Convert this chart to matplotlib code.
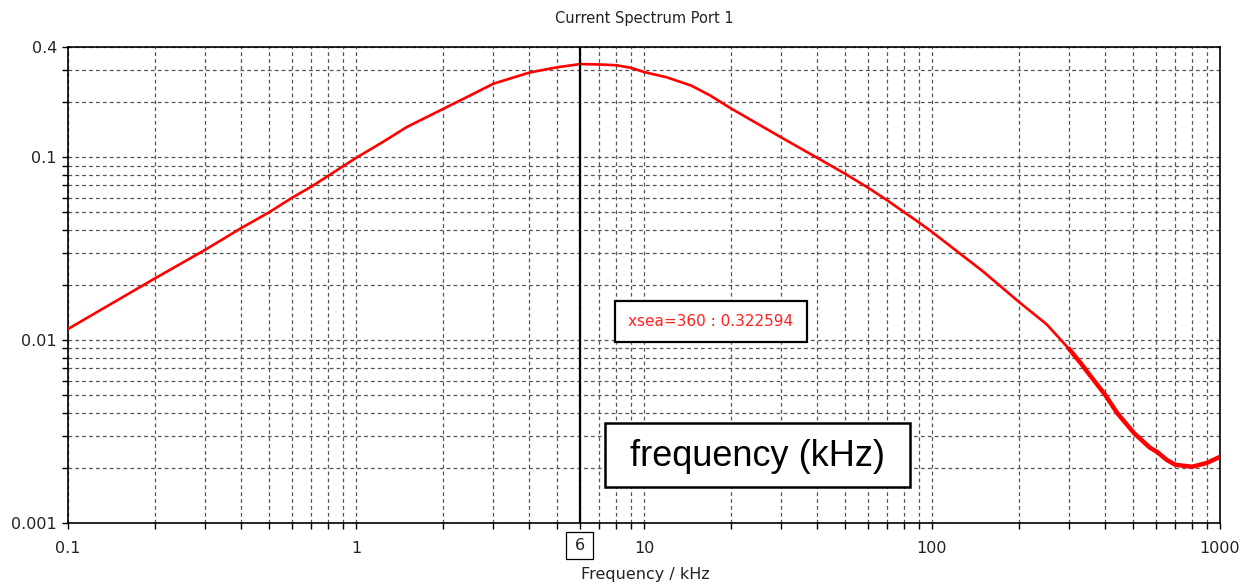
import matplotlib
matplotlib.use("Agg")
import matplotlib.pyplot as plt
from matplotlib.patches import Rectangle
from matplotlib.ticker import LogLocator, FixedLocator, NullFormatter, FixedFormatter

# ---- data ----
freq_khz = [0.1, 0.2, 0.3, 0.4, 0.5, 0.6, 0.7, 0.8, 0.9, 1, 1.25, 1.5, 2, 2.5, 3, 4, 5, 6, 7,
            8, 9, 10, 12, 14.6, 17, 20, 30, 40, 50, 60, 70, 80, 90, 100, 150, 200, 250, 300,
            330, 354, 400, 439, 503, 571, 604, 654, 700, 800, 900, 1000]
current = [0.0115, 0.0217, 0.0312, 0.041, 0.050, 0.060, 0.069, 0.079, 0.089, 0.099, 0.122,
           0.146, 0.183, 0.218, 0.252, 0.290, 0.31, 0.3226, 0.321, 0.318, 0.308, 0.292,
           0.273, 0.246, 0.217, 0.185, 0.128, 0.099, 0.081, 0.068, 0.058, 0.050, 0.044,
           0.039, 0.0238, 0.0162, 0.0122, 0.0089, 0.0074, 0.0064, 0.0050, 0.0040, 0.0031,
           0.00258, 0.00245, 0.00221, 0.00208, 0.00203, 0.00213, 0.0023]
x_ticks = [0.1, 1, 10, 100, 1000]
x_tick_labels = ["0.1", "1", "10", "100", "1000"]
y_ticks = [0.001, 0.01, 0.1, 0.4]
y_tick_labels = ["0.001", "0.01", "0.1", "0.4"]
cursor_x = 6
cursor_label = "6"
marker_text = "xsea=360 : 0.322594"
title = "Current Spectrum Port 1"
xlabel = "Frequency / kHz"
overlay_text = "frequency (kHz)"

W, H = 1242, 586
fig = plt.figure(figsize=(W / 100, H / 100), dpi=100)
L, R, T, B = 68, 1220, 47, 523
ax = fig.add_axes([L / W, 1 - B / H, (R - L) / W, (B - T) / H])

ax.set_xscale("log")
ax.set_yscale("log")
ax.set_xlim(0.1, 1000)
ax.set_ylim(0.001, 0.4)

# grid
grid_kw = dict(color="#555555", linestyle=(0, (3, 2.5)), linewidth=0.9)
ax.xaxis.set_major_locator(FixedLocator(x_ticks))
ax.xaxis.set_major_formatter(FixedFormatter(x_tick_labels))
ax.xaxis.set_minor_locator(LogLocator(base=10, subs=range(2, 10), numticks=20))
ax.xaxis.set_minor_formatter(NullFormatter())
ax.yaxis.set_major_locator(FixedLocator(y_ticks))
ax.yaxis.set_major_formatter(FixedFormatter(y_tick_labels))
ax.yaxis.set_minor_locator(LogLocator(base=10, subs=range(2, 10), numticks=20))
ax.yaxis.set_minor_formatter(NullFormatter())
ax.grid(True, which="both", **grid_kw)
ax.set_axisbelow(True)

# curve
ax.plot(freq_khz, current, color="#ff0000", linewidth=1.9, zorder=3)
# noisy tail drawn thicker
tail = [i for i, f in enumerate(freq_khz) if f >= 300]
ax.plot([freq_khz[i] for i in tail], [current[i] for i in tail], color="#ff0000",
        linewidth=3.2, zorder=3)

# cursor
ax.axvline(cursor_x, color="black", linewidth=1.6, zorder=4)

for s in ax.spines.values():
    s.set_color("black")
    s.set_linewidth(1.2)
ax.tick_params(which="both", direction="out", length=4, width=1, color="black")
ax.tick_params(axis="x", which="major", labelsize=11.5, pad=9, labelcolor="#222222")
ax.tick_params(axis="y", which="major", labelsize=11.5, pad=4, labelcolor="#222222")

fig.text(644 / W, 1 - 18 / H, title, ha="center", va="center", fontsize=10.5, color="#222222")
fig.text(645 / W, 1 - 575 / H, xlabel, ha="center", va="center", fontsize=11.5, color="#222222")

# cursor label box
fig.text(580 / W, 1 - 546 / H, cursor_label, ha="center", va="center", fontsize=11.5,
         color="#222222")
fig.patches.append(Rectangle((566 / W, 1 - 559 / H), 27 / W, 27 / H, transform=fig.transFigure,
                             fill=False, edgecolor="black", linewidth=0.9))

# marker readout box
fig.patches.append(Rectangle((615 / W, 1 - 342 / H), 192 / W, 41 / H, transform=fig.transFigure,
                             facecolor="white", edgecolor="black", linewidth=1.6, zorder=5))
fig.text(711 / W, 1 - 321 / H, marker_text, ha="center", va="center", fontsize=11,
         color="#ff2020", zorder=6)

# overlay label box
fig.patches.append(Rectangle((605 / W, 1 - 487 / H), 305 / W, 64 / H, transform=fig.transFigure,
                             facecolor="white", edgecolor="black", linewidth=1.8, zorder=5))
fig.text(757 / W, 1 - 457 / H, overlay_text, ha="center", va="center", fontsize=26,
         family=["Liberation Sans", "DejaVu Sans"], color="black", zorder=6)

fig.savefig("out.png", dpi=100)
